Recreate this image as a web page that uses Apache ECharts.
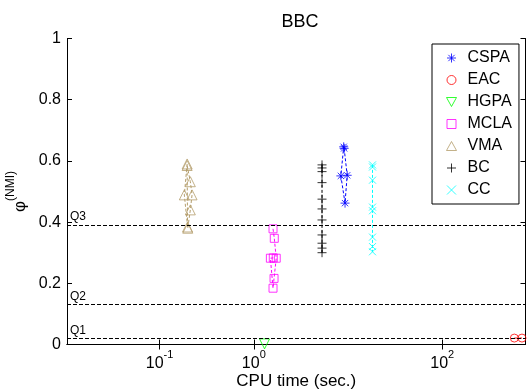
<!DOCTYPE html>
<html>
<head>
<meta charset="utf-8">
<script src="https://cdn.jsdelivr.net/npm/echarts@6/dist/echarts.min.js"></script>
<style>
  html, body { margin: 0; padding: 0; background: #fff; }
  #chart { width: 527px; height: 390px; }
</style>
</head>
<body>
<div id="chart"></div>
<script>
// CPU time (sec.) and NMI per run
const cspaTime = [9.1, 9.8, 9.3, 8.4, 9.0]
const cspaNmi = [0.641, 0.553, 0.462, 0.551, 0.646]
const eacTime = [583, 703]
const eacNmi = [0.021, 0.021]
const hgpaTime = [1.3]
const hgpaNmi = [0.002]
const mclaTime = [1.6, 1.65, 1.73, 1.64, 1.6, 1.5, 1.61]
const mclaNmi = [0.378, 0.347, 0.282, 0.216, 0.184, 0.282, 0.283]
const vmaTime = [0.196, 0.183, 0.199, 0.212, 0.221, 0.212, 0.196, 0.198]
const vmaNmi = [0.59, 0.489, 0.38, 0.44, 0.489, 0.532, 0.585, 0.384]
const bcTime = [5.3, 5.3, 5.3, 5.3, 5.3, 5.3, 5.3, 5.3, 5.3, 5.3, 5.3]
const bcNmi = [0.587, 0.577, 0.565, 0.529, 0.475, 0.443, 0.407, 0.358, 0.331, 0.315, 0.3]
const ccTime = [18.2, 18.2, 18.2, 18.2, 18.2, 18.2, 18.2, 18.2]
const ccNmi = [0.587, 0.58, 0.537, 0.449, 0.437, 0.351, 0.32, 0.303]

const quartiles = [0.018, 0.127, 0.394]
const quartileLabels = ['Q1', 'Q2', 'Q3']
const xTicks = [0.1, 1, 100]

const FONT = '"Liberation Sans", Arial, Helvetica, sans-serif'

// MATLAB-ish marker shapes (stroke only)
const SYM = {
  asterisk: 'path://M5,0L5,10M0,5L10,5M1.5,1.5L8.5,8.5M8.5,1.5L1.5,8.5',
  triUp: 'path://M5,0L10,9L0,9Z',
  triDown: 'path://M0,0L10,0L5,9Z',
  square: 'path://M0,0L10,0L10,10L0,10Z',
  plus: 'path://M5,0L5,10M0,5L10,5',
  cross: 'path://M0,0L10,10M10,0L0,10',
}

const methods = [
  { name: 'CSPA', t: cspaTime, v: cspaNmi, color: '#0000ff', symbol: SYM.asterisk, size: 9 },
  { name: 'EAC', t: eacTime, v: eacNmi, color: '#ff0000', symbol: 'circle', size: 8 },
  { name: 'HGPA', t: hgpaTime, v: hgpaNmi, color: '#00ff00', symbol: SYM.triDown, size: 10 },
  { name: 'MCLA', t: mclaTime, v: mclaNmi, color: '#ff00ff', symbol: SYM.square, size: 8 },
  { name: 'VMA', t: vmaTime, v: vmaNmi, color: '#b49e6c', symbol: SYM.triUp, size: 10 },
  { name: 'BC', t: bcTime, v: bcNmi, color: '#000000', symbol: SYM.plus, size: 9 },
  { name: 'CC', t: ccTime, v: ccNmi, color: '#00ffff', symbol: SYM.cross, size: 7 },
]

const xMin = 0.0104
const xMax = 766

const series = []
methods.forEach((m, i) => {
  const pts = m.t.map((t, k) => [t, m.v[k]])
  const line = {
    name: m.name + ' runs',
    type: 'line',
    data: pts,
    symbol: 'none',
    silent: true,
    z: 2,
    lineStyle: { color: m.color, width: 1, type: [3, 2] },
  }
  if (i === 0) {
    line.markLine = {
      silent: true,
      symbol: 'none',
      lineStyle: { color: '#000', width: 1, type: [4, 2] },
      label: {
        position: 'insideStartTop',
        formatter: '{b}',
        distance: [3, 2],
        fontSize: 12,
        fontFamily: FONT,
        color: '#000',
      },
      data: quartiles.map((q, k) => ({ yAxis: q, name: quartileLabels[k] })),
    }
  }
  series.push(line)
  series.push({
    name: m.name,
    type: 'scatter',
    data: pts,
    symbol: m.symbol,
    symbolSize: m.size,
    clip: false,
    z: 3,
    itemStyle: { color: 'none', borderColor: m.color, borderWidth: 1 },
  })
})

const tickLabel = (v) => '{b|10}{s|' + Math.round(Math.log10(v)) + '}'

const chart = echarts.init(document.getElementById('chart'), null, { renderer: 'canvas' })
chart.setOption({
  animation: false,
  backgroundColor: '#fff',
  textStyle: { fontFamily: FONT, color: '#000' },
  title: {
    text: 'BBC',
    left: 295,
    top: 8,
    textAlign: 'center',
    textStyle: { fontSize: 18, fontWeight: 'normal', color: '#000', fontFamily: FONT },
  },
  grid: {
    left: 67, right: 1.5, top: 38.5, bottom: 45.5,
    containLabel: false, outerBoundsMode: 'none',
  },
  legend: {
    orient: 'vertical',
    left: 432,
    top: 44,
    padding: [6, 7, 6, 12],
    itemGap: 6,
    itemWidth: 10,
    itemHeight: 9,
    backgroundColor: '#fff',
    borderColor: '#000',
    borderWidth: 1,
    borderRadius: 0,
    itemStyle: { borderWidth: 1 },
    textStyle: { fontSize: 16, color: '#000', fontFamily: FONT, padding: [0, 0, 0, 6] },
    data: methods.map((m) => ({ name: m.name, icon: m.symbol })),
  },
  xAxis: [
    {
      type: 'log',
      logBase: 10,
      min: xMin,
      max: xMax,
      name: 'CPU time (sec.)',
      nameLocation: 'middle',
      nameGap: 28,
      nameMoveOverlap: false,
      nameTextStyle: { fontSize: 17, color: '#000', fontFamily: FONT },
      axisLine: { lineStyle: { color: '#000', width: 1 } },
      axisTick: { inside: true, length: 5, customValues: xTicks, lineStyle: { color: '#000' } },
      axisLabel: {
        customValues: xTicks,
        formatter: tickLabel,
        margin: 5,
        rich: {
          b: { fontSize: 16, color: '#000', fontFamily: FONT, lineHeight: 22, verticalAlign: 'bottom' },
          s: { fontSize: 11, color: '#000', fontFamily: FONT, lineHeight: 22, verticalAlign: 'top' },
        },
      },
      splitLine: { show: false },
      minorTick: { show: false },
    },
    {
      type: 'log',
      logBase: 10,
      position: 'top',
      min: xMin,
      max: xMax,
      axisLine: { lineStyle: { color: '#000', width: 1 } },
      axisTick: { inside: true, length: 5, customValues: xTicks, lineStyle: { color: '#000' } },
      axisLabel: { show: false },
      splitLine: { show: false },
    },
  ],
  yAxis: [
    {
      type: 'value',
      min: 0,
      max: 1,
      interval: 0.2,
      name: '{p|φ}{s|(NMI)}',
      nameLocation: 'middle',
      nameGap: 38,
      nameMoveOverlap: false,
      nameTextStyle: {
        rich: {
          p: { fontSize: 17, color: '#000', fontFamily: FONT, lineHeight: 24, verticalAlign: 'bottom' },
          s: { fontSize: 12, color: '#000', fontFamily: FONT, lineHeight: 24, verticalAlign: 'top' },
        },
      },
      axisLine: { show: true, lineStyle: { color: '#000', width: 1 } },
      axisTick: { show: true, inside: true, length: 5, lineStyle: { color: '#000' } },
      axisLabel: { fontSize: 16, color: '#000', fontFamily: FONT, margin: 6 },
      splitLine: { show: false },
    },
    {
      type: 'value',
      position: 'right',
      min: 0,
      max: 1,
      interval: 0.2,
      axisLine: { show: true, lineStyle: { color: '#000', width: 1 } },
      axisTick: { show: true, inside: true, length: 5, lineStyle: { color: '#000' } },
      axisLabel: { show: false },
      splitLine: { show: false },
    },
  ],
  series: series,
})
</script>
</body>
</html>
